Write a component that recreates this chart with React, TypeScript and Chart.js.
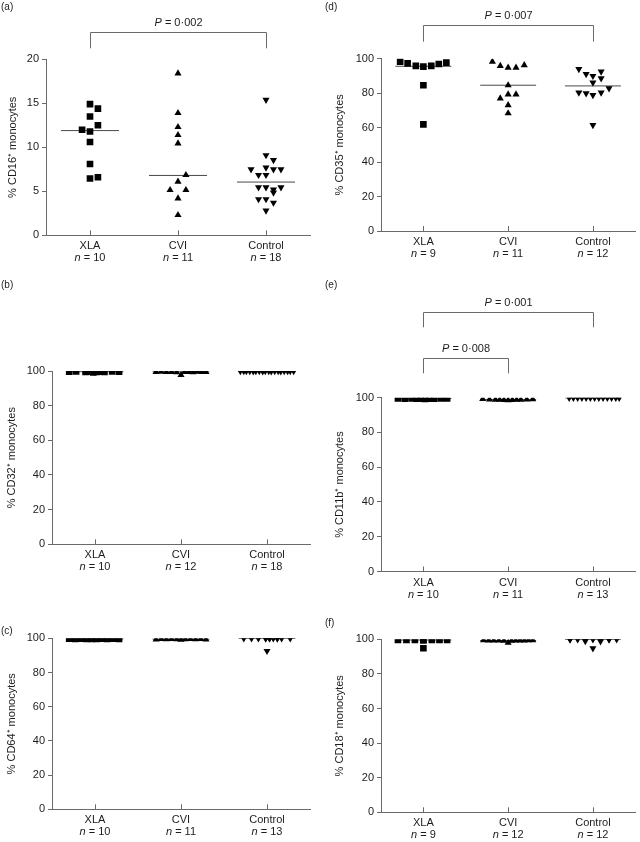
import React, { useEffect, useRef } from 'react';
import { Chart, registerables } from 'chart.js';

Chart.register(...registerables);

// ---------- data ----------
const categories = ['XLA', 'CVI', 'Control'];

// (a) CD16
const cd16N = [10, 11, 18];
const cd16XlaValues = [14.9, 14.4, 13.5, 12.5, 12.0, 11.8, 10.6, 8.1, 6.45, 6.6];
const cd16XlaJitter = [0, 0.09, 0, 0.09, -0.09, 0, 0, 0, 0, 0.09];
const cd16CviValues = [18.4, 13.9, 12.3, 11.4, 10.45, 6.85, 6.1, 5.15, 5.15, 4.2, 2.3];
const cd16CviJitter = [0, 0, 0, 0, 0, 0.09, 0, -0.09, 0.09, 0, 0];
const cd16CtlValues = [15.4, 9.1, 8.55, 7.5, 7.7, 7.5, 7.5, 6.85, 6.85, 5.45, 5.45, 5.2, 5.45, 4.85, 4.1, 4.1, 3.7, 2.8];
const cd16CtlJitter = [0, 0, 0.085, -0.17, 0, 0.085, 0.17, -0.085, 0, -0.085, 0, 0.085, 0.17, 0.085, -0.085, 0, 0.085, 0];
const cd16Medians = [11.9, 6.8, 6.05];

// (b) CD32
const cd32N = [10, 12, 18];
const cd32XlaValues = [99.6, 99.7, 99.5, 99.6, 99.2, 99.5, 99.6, 99.5, 99.7, 99.6];
const cd32XlaJitter = [-0.3, -0.22, -0.11, -0.06, -0.02, 0.02, 0.06, 0.11, 0.2, 0.28];
const cd32CviValues = [99.5, 99.6, 99.4, 99.5, 99.3, 97.7, 99.4, 99.5, 99.3, 99.6, 99.5, 99.4];
const cd32CviJitter = [-0.29, -0.23, -0.17, -0.11, -0.05, 0, 0.04, 0.09, 0.14, 0.19, 0.24, 0.29];
const cd32CtlValues = [99.9, 99.9, 99.9, 99.9, 99.8, 99.9, 99.9, 99.8, 99.9, 99.9, 99.8, 99.9, 99.9, 99.8, 99.9, 99.9, 99.9, 99.9];
const cd32CtlJitter = [-0.31, -0.27, -0.24, -0.2, -0.16, -0.13, -0.09, -0.05, -0.02, 0.02, 0.05, 0.09, 0.13, 0.16, 0.2, 0.24, 0.27, 0.31];
const cd32Medians = [99.6, 99.5, 99.9];

// (c) CD64
const cd64N = [10, 11, 13];
const cd64XlaValues = [99.8, 99.7, 99.8, 99.7, 99.6, 99.7, 99.8, 99.7, 99.8, 99.7];
const cd64XlaJitter = [-0.3, -0.23, -0.16, -0.1, -0.04, 0.02, 0.08, 0.14, 0.21, 0.28];
const cd64CviValues = [99.3, 99.6, 99.5, 99.6, 99.5, 99.2, 99.5, 99.6, 99.5, 99.6, 99.3];
const cd64CviJitter = [-0.29, -0.23, -0.17, -0.11, -0.05, 0, 0.05, 0.11, 0.17, 0.23, 0.29];
const cd64CtlValues = [99.9, 99.9, 99.9, 99.9, 99.9, 99.9, 99.9, 99.9, 99.9, 99.9, 99.9, 99.9, 92.6];
const cd64CtlJitter = [-0.27, -0.18, -0.1, -0.015, 0.03, 0.073, 0.12, 0.17, 0.27, -0.015, 0.03, 0.12, 0];
const cd64Medians = [99.7, 99.5, 99.9];

// (d) CD35
const cd35N = [9, 11, 12];
const cd35XlaValues = [98.3, 97.3, 95.8, 95.4, 95.8, 96.9, 97.7, 84.6, 61.9];
const cd35XlaJitter = [-0.274, -0.186, -0.089, 0, 0.093, 0.182, 0.271, 0, 0];
const cd35CviValues = [98.3, 95.8, 94.8, 94.8, 96.3, 84.6, 77.0, 79.3, 79.3, 73.0, 68.3];
const cd35CviJitter = [-0.186, -0.093, 0, 0.093, 0.19, 0, -0.093, 0, 0.093, 0, 0];
const cd35CtlValues = [94.0, 91.1, 90.0, 92.5, 86.1, 88.6, 80.3, 79.9, 78.9, 80.3, 82.8, 61.5];
const cd35CtlJitter = [-0.166, -0.08, 0, 0.097, 0, 0.097, -0.166, -0.08, 0, 0.097, 0.19, 0];
const cd35Medians = [95.6, 84.6, 84.2];

// (e) CD11b
const cd11bN = [10, 11, 13];
const cd11bXlaValues = [99.6, 99.5, 99.6, 99.5, 99.4, 99.3, 99.4, 99.5, 99.6, 99.6];
const cd11bXlaJitter = [-0.3, -0.22, -0.14, -0.08, -0.03, 0.02, 0.07, 0.13, 0.21, 0.28];
const cd11bCviValues = [99.3, 99.0, 98.9, 98.8, 98.7, 98.6, 98.7, 98.8, 98.9, 99.0, 99.2];
const cd11bCviJitter = [-0.3, -0.22, -0.15, -0.1, -0.05, 0, 0.05, 0.1, 0.15, 0.22, 0.29];
const cd11bCtlValues = [99.9, 99.9, 99.9, 99.9, 99.9, 99.9, 99.9, 99.9, 99.9, 99.9, 99.9, 99.9, 99.9];
const cd11bCtlJitter = [-0.28, -0.23, -0.18, -0.13, -0.08, -0.03, 0.02, 0.07, 0.12, 0.17, 0.22, 0.27, 0.31];
const cd11bMedians = [99.5, 98.9, 99.9];

// (f) CD18
const cd18N = [9, 12, 12];
const cd18XlaValues = [99.6, 99.6, 99.6, 99.5, 99.6, 99.6, 99.6, 94.8, 99.5];
const cd18XlaJitter = [-0.3, -0.2, -0.1, 0, 0.1, 0.19, 0.28, 0, 0];
const cd18CviValues = [99.5, 99.4, 99.4, 99.3, 99.2, 98.0, 99.2, 99.3, 99.4, 99.4, 99.5, 99.5];
const cd18CviJitter = [-0.29, -0.23, -0.17, -0.11, -0.05, 0, 0.04, 0.09, 0.14, 0.19, 0.24, 0.29];
const cd18CtlValues = [99.9, 99.9, 99.0, 94.8, 98.8, 99.9, 99.9, 99.9, 99.9, 99.9, 99.9, 99.9];
const cd18CtlJitter = [-0.27, -0.18, -0.09, 0, 0.09, 0.19, 0.28, -0.09, 0, 0.09, -0.27, 0.19];
const cd18Medians = [99.6, 99.3, 99.9];

// ---------- styles ----------
const FONT = '"Liberation Sans", Arial, Helvetica, sans-serif';
const TEXT = '#1c1c1c';
const AXIS = '#6a6a6a';
const MEDIAN = '#4a4a4a';
const MEDIAN_HALF = 0.33;
const MARKERS = [
  { style: 'rect', radius: 4.7, rotation: 0 },
  { style: 'triangle', radius: 4.1, rotation: 0 },
  { style: 'triangle', radius: 4.1, rotation: 180 },
];

type Group = { values: number[]; jitter: number[] };
type Bracket = { from: number; to: number; p: string; textY: number; top: number; bottom: number };
type Panel = {
  key: string;
  letter: string;
  letterX: number;
  letterY: number;
  title: string;
  yMax: number;
  yStep: number;
  n: number[];
  groups: Group[];
  medians: number[];
  brackets: Bracket[];
  canvas: { left: number; top: number; width: number; height: number };
  plot: { left: number; right: number; top: number; bottom: number };
  titleX: number;
};

const panels: Panel[] = [
  {
    key: 'a', letter: '(a)', letterX: 1, letterY: 7, title: '% CD16\u207A monocytes', yMax: 20, yStep: 5, n: cd16N,
    groups: [
      { values: cd16XlaValues, jitter: cd16XlaJitter },
      { values: cd16CviValues, jitter: cd16CviJitter },
      { values: cd16CtlValues, jitter: cd16CtlJitter },
    ],
    medians: cd16Medians,
    brackets: [{ from: 0, to: 2, p: '0\u00B7002', textY: 22.7, top: 31.7, bottom: 48.3 }],
    canvas: { left: 0, top: 0, width: 320, height: 272 },
    plot: { left: 46, right: 310, top: 59.3, bottom: 235.3 },
    titleX: 13,
  },
  {
    key: 'b', letter: '(b)', letterX: 1, letterY: 285, title: '% CD32\u207A monocytes', yMax: 100, yStep: 20, n: cd32N,
    groups: [
      { values: cd32XlaValues, jitter: cd32XlaJitter },
      { values: cd32CviValues, jitter: cd32CviJitter },
      { values: cd32CtlValues, jitter: cd32CtlJitter },
    ],
    medians: cd32Medians,
    brackets: [],
    canvas: { left: 0, top: 275, width: 320, height: 300 },
    plot: { left: 52, right: 310, top: 371, bottom: 544.3 },
    titleX: 12.3,
  },
  {
    key: 'c', letter: '(c)', letterX: 1, letterY: 631.5, title: '% CD64\u207A monocytes', yMax: 100, yStep: 20, n: cd64N,
    groups: [
      { values: cd64XlaValues, jitter: cd64XlaJitter },
      { values: cd64CviValues, jitter: cd64CviJitter },
      { values: cd64CtlValues, jitter: cd64CtlJitter },
    ],
    medians: cd64Medians,
    brackets: [],
    canvas: { left: 0, top: 622, width: 320, height: 220 },
    plot: { left: 52, right: 310, top: 638.3, bottom: 809.3 },
    titleX: 12.3,
  },
  {
    key: 'd', letter: '(d)', letterX: 325, letterY: 7, title: '% CD35\u207A monocytes', yMax: 100, yStep: 20, n: cd35N,
    groups: [
      { values: cd35XlaValues, jitter: cd35XlaJitter },
      { values: cd35CviValues, jitter: cd35CviJitter },
      { values: cd35CtlValues, jitter: cd35CtlJitter },
    ],
    medians: cd35Medians,
    brackets: [{ from: 0, to: 2, p: '0\u00B7007', textY: 16, top: 25, bottom: 41.7 }],
    canvas: { left: 320, top: 0, width: 320, height: 272 },
    plot: { left: 381, right: 638, top: 58.7, bottom: 231 },
    titleX: 340,
  },
  {
    key: 'e', letter: '(e)', letterX: 325, letterY: 285, title: '% CD11b\u207A monocytes', yMax: 100, yStep: 20, n: cd11bN,
    groups: [
      { values: cd11bXlaValues, jitter: cd11bXlaJitter },
      { values: cd11bCviValues, jitter: cd11bCviJitter },
      { values: cd11bCtlValues, jitter: cd11bCtlJitter },
    ],
    medians: cd11bMedians,
    brackets: [
      { from: 0, to: 2, p: '0\u00B7001', textY: 302.7, top: 311.7, bottom: 327.3 },
      { from: 0, to: 1, p: '0\u00B7008', textY: 349.3, top: 357.7, bottom: 373.3 },
    ],
    canvas: { left: 320, top: 275, width: 320, height: 335 },
    plot: { left: 381, right: 638, top: 397.7, bottom: 571.5 },
    titleX: 340,
  },
  {
    key: 'f', letter: '(f)', letterX: 325, letterY: 623, title: '% CD18\u207A monocytes', yMax: 100, yStep: 20, n: cd18N,
    groups: [
      { values: cd18XlaValues, jitter: cd18XlaJitter },
      { values: cd18CviValues, jitter: cd18CviJitter },
      { values: cd18CtlValues, jitter: cd18CtlJitter },
    ],
    medians: cd18Medians,
    brackets: [],
    canvas: { left: 320, top: 612, width: 320, height: 230 },
    plot: { left: 381, right: 638, top: 639.3, bottom: 812.3 },
    titleX: 340,
  },
];

function drawMixed(ctx: CanvasRenderingContext2D, ital: string, rest: string, cx: number, cy: number) {
  ctx.font = `italic 11px ${FONT}`;
  const w1 = ctx.measureText(ital).width;
  ctx.font = `11px ${FONT}`;
  const w2 = ctx.measureText(rest).width;
  const x0 = cx - (w1 + w2) / 2;
  ctx.font = `italic 11px ${FONT}`;
  ctx.fillText(ital, x0, cy);
  ctx.font = `11px ${FONT}`;
  ctx.fillText(rest, x0 + w1, cy);
}

function decorPlugin(p: Panel) {
  return {
    id: 'decor_' + p.key,
    afterDraw(chart: any) {
      const ctx: CanvasRenderingContext2D = chart.ctx;
      const xs = chart.scales.x;
      const area = chart.chartArea;
      const ox = p.canvas.left;
      const oy = p.canvas.top;
      ctx.save();
      ctx.strokeStyle = AXIS;
      ctx.lineWidth = 1;
      categories.forEach((_, i) => {
        const px = Math.round(xs.getPixelForValue(i)) + 0.5;
        ctx.beginPath();
        ctx.moveTo(px, area.bottom);
        ctx.lineTo(px, area.bottom - 5);
        ctx.stroke();
      });
      ctx.fillStyle = TEXT;
      ctx.textBaseline = 'middle';
      ctx.textAlign = 'left';
      categories.forEach((cat, i) => {
        const px = xs.getPixelForValue(i);
        ctx.font = `11px ${FONT}`;
        const w = ctx.measureText(cat).width;
        ctx.fillText(cat, px - w / 2, area.bottom + 11);
        drawMixed(ctx, 'n', ` = ${p.n[i]}`, px, area.bottom + 23);
      });
      p.brackets.forEach((b) => {
        const x1 = Math.round(xs.getPixelForValue(b.from)) + 0.5;
        const x2 = Math.round(xs.getPixelForValue(b.to)) + 0.5;
        const yt = Math.round(b.top - oy) + 0.5;
        const yb = b.bottom - oy;
        ctx.beginPath();
        ctx.moveTo(x1, yb);
        ctx.lineTo(x1, yt);
        ctx.lineTo(x2, yt);
        ctx.lineTo(x2, yb);
        ctx.stroke();
        drawMixed(ctx, 'P', ` = ${b.p}`, (x1 + x2) / 2, b.textY - oy);
      });
      ctx.font = `10px ${FONT}`;
      ctx.fillText(p.letter, p.letterX - ox, p.letterY - oy);
      ctx.restore();
    },
  };
}

function buildConfig(p: Panel): any {
  const c = p.canvas;
  const yWidth = p.plot.left - c.left;
  const xHeight = c.top + c.height - p.plot.bottom;
  const pointSets = p.groups.map((g, gi) => ({
    label: categories[gi],
    data: g.values.map((v, k) => ({ x: gi + g.jitter[k], y: v })),
    backgroundColor: '#000',
    borderColor: '#000',
    borderWidth: 0,
    pointStyle: MARKERS[gi].style,
    pointRadius: MARKERS[gi].radius,
    pointHoverRadius: MARKERS[gi].radius,
    pointRotation: MARKERS[gi].rotation,
    showLine: false,
    clip: 0,
  }));
  const medianSets = p.medians.map((m, gi) => ({
    label: categories[gi] + ' median',
    data: [
      { x: gi - MEDIAN_HALF, y: m },
      { x: gi + MEDIAN_HALF, y: m },
    ],
    borderColor: MEDIAN,
    backgroundColor: MEDIAN,
    borderWidth: 1,
    pointRadius: 0,
    pointHoverRadius: 0,
    showLine: true,
    fill: false,
    clip: 0,
  }));
  return {
    type: 'scatter',
    data: { datasets: [...pointSets, ...medianSets] },
    options: {
      animation: false,
      responsive: false,
      maintainAspectRatio: false,
      devicePixelRatio: 1,
      events: [],
      layout: {
        padding: {
          left: 0,
          bottom: 0,
          top: p.plot.top - c.top,
          right: c.left + c.width - p.plot.right,
        },
      },
      plugins: { legend: { display: false }, tooltip: { enabled: false } },
      scales: {
        x: {
          type: 'linear',
          min: -0.5,
          max: 2.5,
          ticks: { display: false },
          grid: { display: false },
          border: { display: true, color: AXIS, width: 1 },
          afterFit: (s: any) => {
            s.height = xHeight;
          },
        },
        y: {
          type: 'linear',
          min: 0,
          max: p.yMax,
          ticks: {
            stepSize: p.yStep,
            color: TEXT,
            padding: 3,
            font: { size: 11, family: FONT },
          },
          grid: {
            display: true,
            drawOnChartArea: false,
            drawTicks: true,
            tickLength: 4,
            color: AXIS,
          },
          border: { display: true, color: AXIS, width: 1 },
          title: {
            display: true,
            text: p.title,
            color: TEXT,
            font: { size: 11, family: FONT },
            padding: { top: p.titleX - c.left - 6.6, bottom: 0 },
          },
          afterFit: (s: any) => {
            s.width = yWidth;
          },
        },
      },
    },
    plugins: [decorPlugin(p)],
  };
}

function PanelChart({ panel }: { panel: Panel }) {
  const ref = useRef<HTMLCanvasElement | null>(null);
  useEffect(() => {
    if (!ref.current) return;
    const chart = new Chart(ref.current, buildConfig(panel));
    return () => chart.destroy();
  }, [panel]);
  const c = panel.canvas;
  return (
    <canvas
      ref={ref}
      width={c.width}
      height={c.height}
      style={{ position: 'absolute', left: c.left, top: c.top, width: c.width, height: c.height }}
    />
  );
}

export default function App() {
  return (
    <div style={{ position: 'absolute', left: 0, top: 0, width: 640, height: 842, background: '#fff' }}>
      {panels.map((p) => (
        <PanelChart key={p.key} panel={p} />
      ))}
    </div>
  );
}
